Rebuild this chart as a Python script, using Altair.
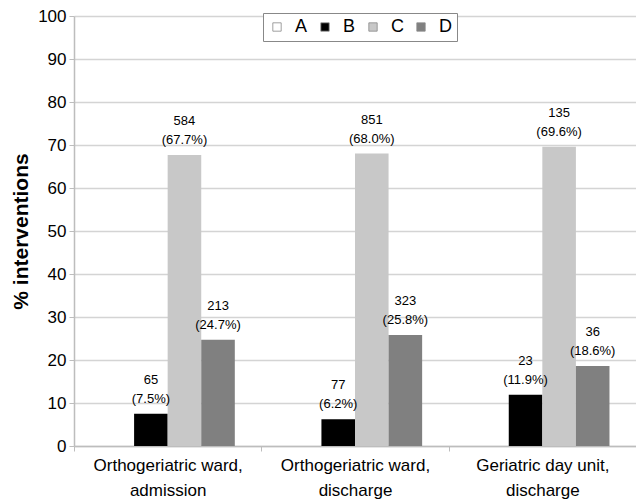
import altair as alt
import pandas as pd

categories = ["Orthogeriatric ward,\nadmission", "Orthogeriatric ward,\ndischarge", "Geriatric day unit,\ndischarge"]
series = ["A", "B", "C", "D"]
pct = {
    "A": [0.0, 0.0, 0.0],
    "B": [7.5, 6.2, 11.9],
    "C": [67.7, 68.0, 69.6],
    "D": [24.7, 25.8, 18.6],
}
counts = {
    "A": [None, None, None],
    "B": [65, 77, 23],
    "C": [584, 851, 135],
    "D": [213, 323, 36],
}
colors = ["#ffffff", "#000000", "#c8c8c8", "#808080"]

rows = []
for s in series:
    for i, c in enumerate(categories):
        n = counts[s][i]
        rows.append({
            "cat": c,
            "series": s,
            "pct": pct[s][i],
            "nlabel": "" if n is None else f"{n}",
            "plabel": "" if n is None else f"({pct[s][i]:.1f}%)",
        })
df = pd.DataFrame(rows)

FONT = "Liberation Sans"

x = alt.X("cat:N", sort=categories, title=None,
          scale=alt.Scale(paddingInner=0, paddingOuter=0),
          axis=alt.Axis(labelAngle=0, labelExpr="split(datum.label, '\\n')",
                        labelFontSize=17, labelColor="#000000", labelFont=FONT,
                        labelLineHeight=25, labelPadding=6,
                        tickBand="extent", tickSize=5, tickColor="#bdbdbd",
                        domainColor="#bdbdbd", domainWidth=1.5, grid=False))
xo = alt.XOffset("series:N", sort=series,
                 scale=alt.Scale(paddingInner=0, paddingOuter=0.79))
y = alt.Y("pct:Q", title="% interventions",
          scale=alt.Scale(domain=[0, 100]),
          axis=alt.Axis(values=list(range(0, 101, 10)), labelFontSize=17,
                        labelColor="#000000", labelFont=FONT, labelPadding=3,
                        tickSize=5, tickColor="#bdbdbd", domainColor="#bdbdbd",
                        domainWidth=1.5, gridColor="#d4d4d4", gridWidth=1.5,
                        titleFontSize=21, titleFont=FONT, titleFontWeight="bold",
                        titleColor="#000000", titlePadding=6))

bars = alt.Chart(df).mark_bar().encode(
    x=x, xOffset=xo, y=y,
    color=alt.Color("series:N", sort=series,
                    scale=alt.Scale(domain=series, range=colors),
                    legend=alt.Legend(title=None, orient="none", legendX=189, legendY=-3,
                                      direction="horizontal", columns=4,
                                      symbolType="square", symbolSize=70,
                                      symbolStrokeColor="#888888", symbolStrokeWidth=0.8,
                                      labelFontSize=18, labelFont=FONT, labelColor="#000000",
                                      columnPadding=8, labelOffset=9,
                                      padding=5, strokeColor="#888888",
                                      fillColor="#ffffff")),
)

count_text = alt.Chart(df).mark_text(baseline="bottom", dy=-27, fontSize=13, font=FONT,
                                     color="#000000").encode(
    x=x, xOffset=xo, y=y, text="nlabel:N",
)
pct_text = alt.Chart(df).mark_text(baseline="bottom", dy=-8, fontSize=13, font=FONT,
                                   color="#000000").encode(
    x=x, xOffset=xo, y=y, text="plabel:N",
)

chart = alt.layer(bars, count_text, pct_text).properties(
    width=562, height=430,
    autosize=alt.AutoSizeParams(type="none"),
    padding={"left": 66, "top": 8, "right": 0, "bottom": 57},
).configure_view(stroke=None)

chart.save("out.html", embed_options={"renderer": "svg", "actions": False})
